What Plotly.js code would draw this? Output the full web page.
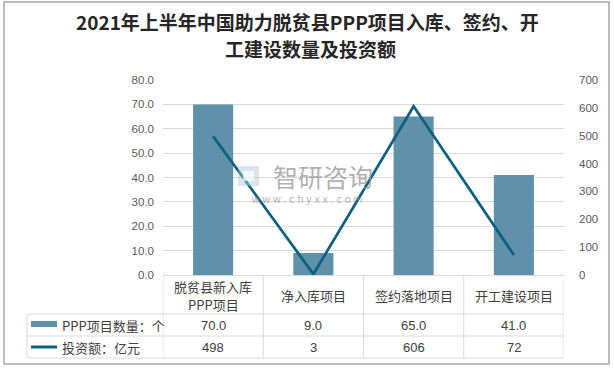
<!DOCTYPE html>
<html>
<head>
<meta charset="utf-8">
<script src="https://cdn.plot.ly/plotly-3.0.1.min.js"></script>
<style>
html,body{margin:0;padding:0;background:#fff;}
#chart{width:614px;height:370px;}
</style>
</head>
<body>
<div id="chart"></div>
<script>
// ---- data ----
var categories = ['脱贫县新入库PPP项目', '净入库项目', '签约落地项目', '开工建设项目'];
var projectCounts = [70.0, 9.0, 65.0, 41.0];
var investments = [498, 3, 606, 72];
var seriesNames = ['PPP项目数量：个', '投资额：亿元'];
var leftTicks = [0, 10, 20, 30, 40, 50, 60, 70, 80];
var rightTicks = [0, 100, 200, 300, 400, 500, 600, 700];
var titleLines = ['2021年上半年中国助力脱贫县PPP项目入库、签约、开', '工建设数量及投资额'];

// ---- layout geometry (pixels) ----
var W = 614, H = 370;
var L = 163, R = 564, T = 80, B = 275;
function px(x){ return (x - L) / (R - L); }
function py(y){ return (B - y) / (B - T); }

var barColor = '#5F91A9';
var lineColor = '#0E5F80';
var gridColor = '#D9D9D9';
var textColor = '#404040';
var numFont = 'Liberation Sans, Noto Sans CJK SC, sans-serif';
var cjkFont = 'Noto Sans CJK SC, sans-serif';

function splitLabel(s){
  return s.length > 8 ? [s.slice(0, 6), s.slice(6)] : [s];
}

var traces = [
  {
    type: 'bar', x: categories, y: projectCounts, name: seriesNames[0],
    marker: {color: barColor}, width: 0.4, yaxis: 'y', hoverinfo: 'none'
  },
  {
    type: 'scatter', mode: 'lines', x: categories, y: investments, name: seriesNames[1],
    line: {color: lineColor, width: 2.75}, yaxis: 'y2', hoverinfo: 'none'
  }
];

var shapes = [];
var annotations = [];
var lineStyle = {color: gridColor, width: 1};

// outer frame
shapes.push({type: 'rect', xref: 'paper', yref: 'paper',
  x0: px(4), x1: px(609), y0: py(364), y1: py(2),
  line: {color: '#A6A6A6', width: 1.5}, layer: 'below'});

// title
annotations.push({xref: 'paper', yref: 'paper', x: px(307), y: py(22),
  xanchor: 'center', yanchor: 'middle', showarrow: false, text: '<b>' + titleLines[0] + '</b>',
  font: {family: cjkFont, size: 19, color: '#262626'}});
annotations.push({xref: 'paper', yref: 'paper', x: px(310), y: py(49),
  xanchor: 'center', yanchor: 'middle', showarrow: false, text: '<b>' + titleLines[1] + '</b>',
  font: {family: cjkFont, size: 19, color: '#262626'}});

// data table: horizontal lines
var rowLines = [314, 336, 358];
rowLines.forEach(function(y){
  shapes.push({type: 'line', xref: 'paper', yref: 'paper',
    x0: px(27), x1: px(R), y0: py(y), y1: py(y), line: lineStyle});
});
// vertical lines between category columns
for (var i = 0; i <= categories.length; i++) {
  shapes.push({type: 'line', xref: 'x', yref: 'paper',
    x0: i - 0.5, x1: i - 0.5, y0: py(358), y1: py(B), line: lineStyle});
}
// legend column left line
shapes.push({type: 'line', xref: 'paper', yref: 'paper',
  x0: px(27), x1: px(27), y0: py(358), y1: py(314), line: lineStyle});

// legend keys
shapes.push({type: 'rect', xref: 'paper', yref: 'paper',
  x0: px(31), x1: px(57), y0: py(327), y1: py(321),
  fillcolor: barColor, line: {width: 0}});
shapes.push({type: 'line', xref: 'paper', yref: 'paper',
  x0: px(31), x1: px(57), y0: py(347), y1: py(347),
  line: {color: lineColor, width: 3}});

annotations.push({xref: 'paper', yref: 'paper', x: px(60), y: py(325),
  xanchor: 'left', yanchor: 'middle', showarrow: false, text: seriesNames[0],
  font: {family: cjkFont, size: 13, color: textColor}});
annotations.push({xref: 'paper', yref: 'paper', x: px(60), y: py(347),
  xanchor: 'left', yanchor: 'middle', showarrow: false, text: seriesNames[1],
  font: {family: cjkFont, size: 13, color: textColor}});

// header and values
categories.forEach(function(c, i){
  var parts = splitLabel(c);
  var ys = parts.length === 2 ? [286, 304] : [295];
  parts.forEach(function(p, k){
    annotations.push({xref: 'x', yref: 'paper', x: i, y: py(ys[k]),
      xanchor: 'center', yanchor: 'middle', showarrow: false, text: p,
      font: {family: cjkFont, size: 13, color: textColor}});
  });
  annotations.push({xref: 'x', yref: 'paper', x: i, y: py(325),
    xanchor: 'center', yanchor: 'middle', showarrow: false, text: projectCounts[i].toFixed(1),
    font: {family: numFont, size: 13, color: textColor}});
  annotations.push({xref: 'x', yref: 'paper', x: i, y: py(347),
    xanchor: 'center', yanchor: 'middle', showarrow: false, text: String(investments[i]),
    font: {family: numFont, size: 13, color: textColor}});
});

// watermark
shapes.push({type: 'rect', xref: 'paper', yref: 'paper',
  x0: px(238), x1: px(259), y0: py(186), y1: py(166),
  fillcolor: 'rgba(170,200,225,0.45)', line: {width: 0}, layer: 'above'});
shapes.push({type: 'rect', xref: 'paper', yref: 'paper',
  x0: px(243), x1: px(254), y0: py(181), y1: py(171),
  fillcolor: 'rgba(255,255,255,0.7)', line: {width: 0}, layer: 'above'});
annotations.push({xref: 'paper', yref: 'paper', x: px(323), y: py(176),
  xanchor: 'center', yanchor: 'middle', showarrow: false, text: '智研咨询',
  font: {family: cjkFont, size: 25, color: 'rgba(150,150,150,0.75)'}});
annotations.push({xref: 'paper', yref: 'paper', x: px(307), y: py(199),
  xanchor: 'center', yanchor: 'middle', showarrow: false, text: 'w w w . c h y x x . c o m',
  font: {family: numFont, size: 10.5, color: 'rgba(150,150,150,0.75)'}});

var layout = {
  width: W, height: H,
  margin: {l: L, r: W - R, t: T, b: H - B, pad: 0},
  paper_bgcolor: '#ffffff', plot_bgcolor: '#ffffff',
  showlegend: false,
  xaxis: {
    type: 'category', range: [-0.5, categories.length - 0.5],
    showticklabels: false, showgrid: false, zeroline: false,
    showline: false, ticks: ''
  },
  yaxis: {
    range: [0, 80], tickvals: leftTicks, tickformat: '.1f',
    showgrid: true, gridcolor: gridColor, gridwidth: 1,
    zeroline: true, zerolinecolor: gridColor, zerolinewidth: 1,
    showline: false, ticks: '', ticklabelstandoff: 8,
    tickfont: {family: numFont, size: 11.5, color: '#595959'}
  },
  yaxis2: {
    overlaying: 'y', side: 'right', range: [0, 700], tickvals: rightTicks,
    showgrid: false, zeroline: false, showline: false, ticks: '',
    ticklabelstandoff: 14,
    tickfont: {family: numFont, size: 11.5, color: '#595959'}
  },
  shapes: shapes,
  annotations: annotations
};

Plotly.newPlot('chart', traces, layout, {staticPlot: true, displayModeBar: false});
</script>
</body>
</html>
